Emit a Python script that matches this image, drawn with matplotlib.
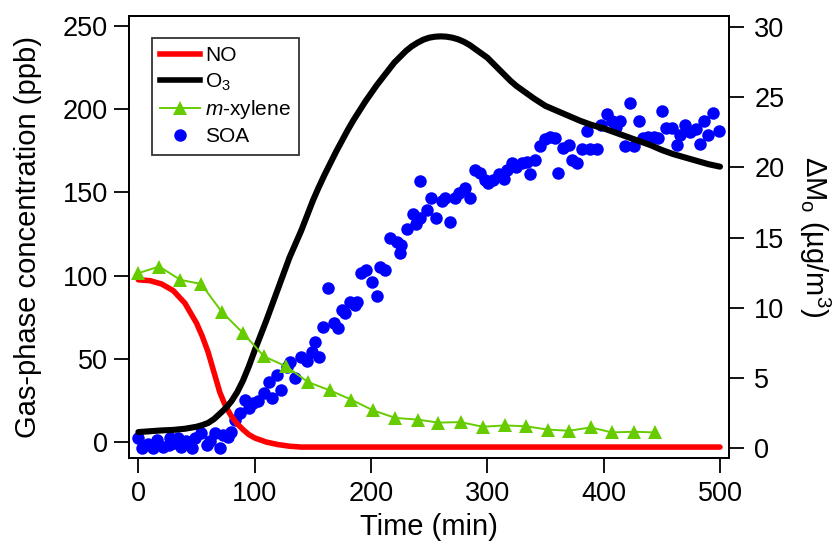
import matplotlib
matplotlib.use("Agg")
import matplotlib.pyplot as plt
from matplotlib.lines import Line2D

plt.rcParams['font.family'] = ['Liberation Sans', 'DejaVu Sans']
plt.rcParams['mathtext.fontset'] = 'custom'
plt.rcParams['mathtext.rm'] = 'Liberation Sans'
plt.rcParams['mathtext.it'] = 'Liberation Sans:italic'

# NO (ppb)
no_time = [0, 10, 20, 30, 40, 50, 55, 60, 65, 70, 75, 80, 85, 90, 95, 100, 110, 120, 130,
           140, 150, 200, 250, 300, 350, 400, 450, 500]
no_ppb = [97.5, 97, 95, 91, 83.5, 71.5, 63.5, 54, 42, 30, 21.5, 15.5, 11, 7.5, 4.5, 2.5,
          0, -1.5, -2.5, -3, -3, -3, -3, -3, -3, -3, -3, -3]

# O3 (ppb)
o3_time = [0, 10, 20, 30, 40, 50, 55, 60, 65, 70, 75, 80, 85, 90, 95, 100, 105, 110, 115,
           120, 125, 130, 135, 140, 145, 150, 155, 160, 165, 170, 175, 180, 185, 190, 195,
           200, 205, 210, 215, 220, 225, 230, 235, 240, 245, 250, 255, 260, 265, 270, 275,
           280, 285, 290, 295, 300, 305, 310, 315, 320, 325, 330, 340, 350, 360, 370, 380,
           390, 400, 410, 420, 430, 440, 450, 460, 470, 480, 490, 500]
o3_ppb = [6, 6.5, 7, 7.3, 8, 9.2, 10.2, 11.5, 13.8, 17, 20.3, 24.5, 30, 37, 45.5, 55, 64,
          73, 82.5, 92, 101.5, 111, 119, 127, 136, 145, 153, 160.5, 167.5, 174.5, 181,
          187.5, 193.5, 199, 204.5, 209.5, 214.5, 219, 223.5, 228, 231.5, 235, 237.8, 240,
          241.8, 243, 243.6, 243.8, 243.6, 243, 242, 240.5, 238.5, 236, 233.5, 231, 227.5,
          224, 220.5, 217, 214, 211.5, 206.5, 202, 199, 196, 193, 190.5, 188.5, 186, 183.5,
          181, 178.5, 175.5, 173, 171, 169, 167, 165.5]

# m-xylene (ppb)
xyl_time = [0, 18, 36, 54, 72, 90, 108, 127, 146, 165, 183, 202, 221, 240, 258,
            277, 296, 315, 333, 352, 370, 389, 407, 426, 444]
xyl_ppb = [101.5, 105.5, 97.5, 95, 78, 65.5, 51.5, 45.5, 36, 31, 25.5, 19, 14.5, 13.5, 11.7,
           12, 9.2, 10, 9.5, 7.5, 6.8, 8.8, 5.8, 6.2, 5.8]

# SOA mass (ug/m3)
soa_time = [0, 3, 8, 13, 16, 21, 26, 27, 31, 34, 37, 41, 46, 49, 54, 59, 62, 66, 70, 73,
            77, 80, 83, 87, 92, 95, 99, 103, 108, 112, 115, 119, 123, 128, 130, 135, 140,
            145, 149, 152, 155, 159, 163, 168, 172, 175, 178, 182, 186, 188, 191, 196, 201,
            205, 208, 212, 216, 222, 225, 226, 231, 236, 239, 242, 242, 248, 252, 256, 261,
            264, 268, 272, 276, 281, 285, 289, 294, 298, 301, 305, 310, 314, 317, 321, 325,
            330, 334, 337, 341, 345, 350, 354, 358, 361, 365, 370, 373, 377, 381, 386, 388,
            394, 398, 403, 407, 411, 414, 418, 423, 426, 430, 434, 438, 443, 447, 450, 454,
            459, 463, 466, 470, 474, 479, 483, 486, 490, 494, 499]
soa_ug = [0.7, 0, 0.3, 0, 0.6, 0.1, 0.24, 0.7, 0.4, 0.7, 0.12, 0.5, 0, 0.7, 1.07, 0.24, 0.5,
          1.07, 0, 0.95, 0.8, 1.18, 2.0, 2.5, 3.44, 2.9, 3.21, 3.4, 3.92, 4.75, 3.56, 5.22,
          4.16, 5.82, 6.17, 4.99, 6.53, 6.2, 6.89, 7.6, 6.53, 8.67, 11.4, 8.91, 8.55, 9.86,
          9.6, 10.45, 10.2, 10.45, 12.47, 12.7, 11.87, 10.81, 12.94, 12.7, 15.0, 14.7, 13.9,
          14.5, 15.6, 16.7, 16.0, 19.0, 16.4, 17.0, 17.8, 16.4, 17.6, 17.8, 16.1, 17.8, 18.2,
          18.5, 17.8, 19.8, 19.6, 19.1, 18.9, 19.1, 19.5, 19.2, 19.8, 20.3, 20.0, 20.3, 20.4,
          19.5, 20.5, 21.5, 22.0, 22.2, 22.1, 19.6, 21.4, 21.6, 20.5, 20.3, 21.3, 22.6, 21.3,
          21.3, 23.0, 23.8, 23.3, 22.9, 23.3, 21.5, 24.6, 21.5, 23.3, 22.1, 22.2, 22.2, 22.1,
          24.0, 22.8, 22.8, 21.6, 22.3, 23.0, 22.5, 22.7, 21.7, 23.3, 22.3, 23.9, 22.6]

red = '#FF0000'
green = '#66CC00'
blue = '#0000FF'

fig = plt.figure(figsize=(8.4, 5.46), dpi=100)
ax = fig.add_axes([0.1536, 0.1617, 0.7146, 0.8095])
ax2 = ax.twinx()

# SOA on the right axis, drawn beneath the gas-phase traces
ax2.plot(soa_time, soa_ug, 'o', color=blue, markersize=9, markeredgewidth=0, zorder=1)
ax.set_zorder(ax2.get_zorder() + 1)
ax.patch.set_visible(False)

ax.plot(no_time, no_ppb, color=red, lw=4.0, solid_capstyle='round',
        solid_joinstyle='round', zorder=2)
ax.plot(o3_time, o3_ppb, color='black', lw=4.4, solid_capstyle='round',
        solid_joinstyle='round', zorder=3)
ax.plot(xyl_time, xyl_ppb, color=green, lw=1.4, marker='^', markersize=9.5,
        markeredgewidth=0, zorder=4)

ax.set_xlim(-8, 508)
ax.set_ylim(-9.4, 256.2)
ax2.set_ylim(-0.67, 30.8)

ax.set_xticks([0, 100, 200, 300, 400, 500])
ax.set_yticks([0, 50, 100, 150, 200, 250])
ax2.set_yticks([0, 5, 10, 15, 20, 25, 30])

for a in (ax, ax2):
    for s in a.spines.values():
        s.set_linewidth(1.3)
    a.tick_params(direction='out', length=11, width=1.3, labelsize=19.5)
ax.tick_params(axis='x', pad=6)
ax.tick_params(axis='y', pad=4)
ax2.tick_params(axis='y', pad=7)

ax.set_xlabel('Time (min)', fontsize=21, labelpad=4)
ax.set_ylabel('Gas-phase concentration (ppb)', fontsize=21, labelpad=15)
ax2.set_ylabel(r'$\Delta$M$_\mathregular{o}$ (µg/m$^\mathregular{3}$)', fontsize=21,
               rotation=-90, labelpad=34)

handles = [
    Line2D([], [], color=red, lw=4),
    Line2D([], [], color='black', lw=4),
    Line2D([], [], color=green, lw=1.4, marker='^', markersize=9.5, markeredgewidth=0),
    Line2D([], [], color=blue, lw=0, marker='o', markersize=9, markeredgewidth=0),
]
labels = ['NO', r'O$_\mathregular{3}$', r'$\mathit{m}$-xylene', 'SOA']
leg = ax.legend(handles, labels, loc='upper left', bbox_to_anchor=(0.0383, 0.9495),
                fontsize=15, frameon=True, fancybox=False, edgecolor='black',
                handlelength=1.9, handletextpad=0.25, borderpad=0.4, labelspacing=0.28,
                borderaxespad=0)
leg.get_frame().set_linewidth(1.3)

fig.savefig('out.png', dpi=100)
